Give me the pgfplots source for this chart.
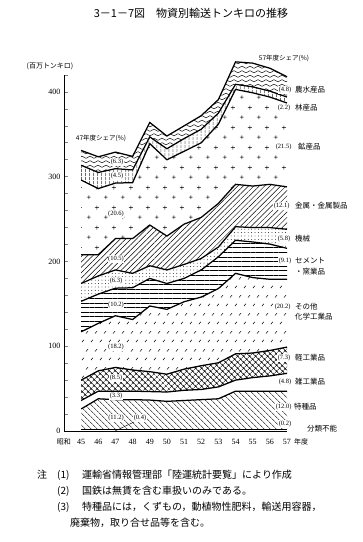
\documentclass[border=0pt]{standalone}
\usepackage{pgfplots}
\pgfplotsset{compat=1.18}
\usepackage{pgfplotstable}
\usepgfplotslibrary{fillbetween}
\usetikzlibrary{patterns.meta}
\usepackage{fontspec}
\setmainfont{Liberation Serif}
\newfontfamily\jp{Noto Sans CJK JP}

\tikzdeclarepattern{
  name=waves, type=uncolored,
  bottom left={(-1pt,-1pt)}, top right={(9pt,5.5pt)},
  tile size={(8pt,4.5pt)},
  code={
    \draw[line width=0.45pt] (0pt,2.25pt) .. controls (1.3pt,3.7pt) and (2.7pt,3.7pt) .. (4pt,2.25pt)
      .. controls (5.3pt,0.8pt) and (6.7pt,0.8pt) .. (8pt,2.25pt);
  }
}
\tikzdeclarepattern{
  name=pluses, type=uncolored,
  bottom left={(0pt,0pt)}, top right={(17pt,20pt)},
  tile size={(17pt,20pt)},
  code={
    \draw[line width=0.6pt] (2pt,5pt)--(6pt,5pt) (4pt,3pt)--(4pt,7pt)
      (10.5pt,15pt)--(14.5pt,15pt) (12.5pt,13pt)--(12.5pt,17pt);
  }
}
\tikzdeclarepattern{
  name=slashes, type=uncolored,
  bottom left={(0pt,0pt)}, top right={(9pt,18pt)},
  tile size={(9pt,18pt)},
  code={
    \draw[line width=0.55pt] (1pt,2pt)--(3.2pt,4.4pt) (5.5pt,11pt)--(7.7pt,13.4pt);
  }
}

\pgfplotstableread{
year b0 t1 t2 t3 t4 t5 t6 t7 t8 t9 t10 t11
45 0 1.5 26 36 60 117 153 174 208 296 313.5 331
46 0 1.5 38 47 71 127 161.5 183 208 286 305 323.5
47 0 1.5 37 47 75 136 168.5 190 227 292.5 309.5 329
48 0 1.5 37 47 72 131.5 169 186 227 293 308 324
49 0 1.5 36.5 46.5 70 147.5 180 195 243 339 347 364
50 0 1.5 35 46 67 143.5 174 190 230 320 333 348
51 0 1.5 36 48 73 152.5 180 196.5 244 330 345 360
52 0 1.5 37 49 77 158 190 203.5 252 340 356 372
53 0 1.5 38 52 80.5 168 205.5 217 268.5 362 375 391
54 0 1.5 47 60 91 186 225 241 291 403 409 435.5
55 0 1.5 47 63 92 181 223 240 289 399 406 434
56 0 1.5 47 65 95 179 220.5 240 291 394 401 428
57 0 1.5 47 68 99 179 215.5 238 288 387 394 418
}\datatable

\tikzset{
  pSpecial/.style={pattern={Lines[angle=-45,distance=4pt,line width=0.5pt]}},
  pLight/.style={pattern={Hatch[angle=45,distance=4pt,line width=0.5pt]}},
  pCement/.style={pattern={Lines[angle=0,distance=4.6pt,line width=0.5pt]}},
  pMach/.style={pattern={Dots[distance=3.4pt,radius=0.45pt]}},
  pMetal/.style={pattern={Lines[angle=45,distance=3.8pt,line width=0.5pt]}},
  pForest/.style={pattern={Lines[angle=90,distance=4pt,line width=0.45pt]}},
}

\begin{document}
\begin{tikzpicture}
\path (0,0) rectangle (363pt,542pt);
\begin{axis}[
  at={(64pt,111pt)}, anchor=south west,
  scale only axis, width=223pt, height=356pt,
  xmin=44, xmax=57, ymin=0, ymax=420,
  axis lines=left, axis line style={-, line width=0.9pt},
  xtick={45,...,57},
  xticklabels={45,46,47,48,49,50,51,52,53,54,55,56,57},
  xtick style={draw=none},
  xticklabel style={yshift=-4.5pt},
  ytick={0,20,...,420},
  yticklabels={0,,,,,100,,,,,200,,,,,300,,,,,400,},
  tick align=inside, major tick length=4pt,
  ytick style={line width=0.7pt},
  tick label style={font=\fontsize{8}{9}\selectfont},
  /pgf/number format/assume math mode=true,
  clip=false,
]
\addplot[draw=none, name path=t1] table[x=year,y=t1]{\datatable};
\addplot[draw=none, name path=t2] table[x=year,y=t2]{\datatable};
\addplot[draw=none, name path=t3] table[x=year,y=t3]{\datatable};
\addplot[draw=none, name path=t4] table[x=year,y=t4]{\datatable};
\addplot[draw=none, name path=t5] table[x=year,y=t5]{\datatable};
\addplot[draw=none, name path=t6] table[x=year,y=t6]{\datatable};
\addplot[draw=none, name path=t7] table[x=year,y=t7]{\datatable};
\addplot[draw=none, name path=t8] table[x=year,y=t8]{\datatable};
\addplot[draw=none, name path=t9] table[x=year,y=t9]{\datatable};
\addplot[draw=none, name path=t10] table[x=year,y=t10]{\datatable};
\addplot[draw=none, name path=t11] table[x=year,y=t11]{\datatable};
\addplot[pSpecial] fill between[of=t1 and t2];
\addplot[pLight] fill between[of=t3 and t4];
\addplot[pattern=slashes] fill between[of=t4 and t5];
\addplot[pCement] fill between[of=t5 and t6];
\addplot[pMach] fill between[of=t6 and t7];
\addplot[pMetal] fill between[of=t7 and t8];
\addplot[pattern=pluses] fill between[of=t8 and t9];
\addplot[pForest] fill between[of=t9 and t10];
\addplot[pattern=waves] fill between[of=t10 and t11];
\addplot[black, line width=0.6pt] table[x=year,y=t1]{\datatable};
\addplot[black, line width=1.25pt] table[x=year,y=t2]{\datatable};
\addplot[black, line width=1.25pt] table[x=year,y=t3]{\datatable};
\addplot[black, line width=1.25pt] table[x=year,y=t4]{\datatable};
\addplot[black, line width=1.25pt] table[x=year,y=t5]{\datatable};
\addplot[black, line width=1.25pt] table[x=year,y=t6]{\datatable};
\addplot[black, line width=1.25pt] table[x=year,y=t7]{\datatable};
\addplot[black, line width=1.25pt] table[x=year,y=t8]{\datatable};
\addplot[black, line width=1.25pt] table[x=year,y=t9]{\datatable};
\addplot[black, line width=1.25pt] table[x=year,y=t10]{\datatable};
\addplot[black, line width=1.25pt] table[x=year,y=t11]{\datatable};
\end{axis}
\begin{scope}[x=1pt,y=-1pt,yshift=542pt]
\node at (191,13) {\jp\fontsize{11}{13}\selectfont 3－1－7図\quad 物資別輸送トンキロの推移};
\node at (50,66) {\jp\fontsize{7}{8}\selectfont (百万トンキロ)};
\node at (101,138) {\jp\fontsize{6.5}{8}\selectfont 47年度シェア(\%)};
\node at (284,58) {\jp\fontsize{6.5}{8}\selectfont 57年度シェア(\%)};
% left labels
\begin{scope}[every node/.style={fill=white, inner sep=0.6pt, font=\fontsize{6.5}{7}\selectfont}]
\node at (117,162) {(6.3)};
\node at (117,176) {(4.5)};
\node at (116,214) {(20.6)};
\node at (116,259) {(10.5)};
\node at (116,281) {(6.3)};
\node at (116,305) {(10.2)};
\node at (116,347) {(18.2)};
\node at (116,378) {(8.5)};
\node at (116,396) {(3.3)};
\node at (116,418) {(11.2)};
\node at (140,418) {(0.4)};
\end{scope}
\draw[line width=0.4pt] (115,431)--(134,422);
% right labels
\begin{scope}[every node/.style={anchor=west, fill=white, inner sep=0.6pt, font=\fontsize{6.5}{7}\selectfont}]
\node at (278,90) {(4.8)};
\node at (277,108) {(2.2)};
\node at (275,147) {(21.5)};
\node at (273,206) {(12.1)};
\node at (277,239) {(5.8)};
\node at (278,261) {(9.1)};
\node at (274,307) {(20.2)};
\node at (277,358) {(7.3)};
\node at (278,382) {(4.8)};
\node at (275,407) {(12.0)};
\node at (278,424) {(0.2)};
\end{scope}
\begin{scope}[every node/.style={anchor=west, inner sep=0pt, font=\jp\fontsize{7.5}{8}\selectfont}]
\node at (295,90) {農水産品};
\node at (295,108) {林産品};
\node at (298,147) {鉱産品};
\node at (295,206) {金属・金属製品};
\node at (295,239) {機械};
\node at (295,261) {セメント};
\node at (295,272) {・窯業品};
\node at (295,307) {その他};
\node at (295,317) {化学工業品};
\node at (295,358) {軽工業品};
\node at (295,382) {雑工業品};
\node at (294,407) {特種品};
\node at (307,429) {分類不能};
\end{scope}
\node[anchor=east, inner sep=0pt] at (71,442) {\jp\fontsize{7}{8}\selectfont 昭和};
\node[anchor=west, inner sep=0pt] at (294,442) {\jp\fontsize{7}{8}\selectfont 年度};
% notes
\begin{scope}[every node/.style={anchor=west, inner sep=0pt, font=\jp\fontsize{10}{12}\selectfont}]
\node at (37,475) {注};
\node at (57,475) {(1)};
\node at (82,475) {運輸省情報管理部「陸運統計要覧」により作成};
\node at (57,491) {(2)};
\node at (82,491) {国鉄は無賃を含む車扱いのみである。};
\node at (57,507) {(3)};
\node at (82,507) {特種品には，くずもの，動植物性肥料，輸送用容器，};
\node at (70,523) {廃棄物，取り合せ品等を含む。};
\end{scope}
\end{scope}
\end{tikzpicture}
\end{document}
